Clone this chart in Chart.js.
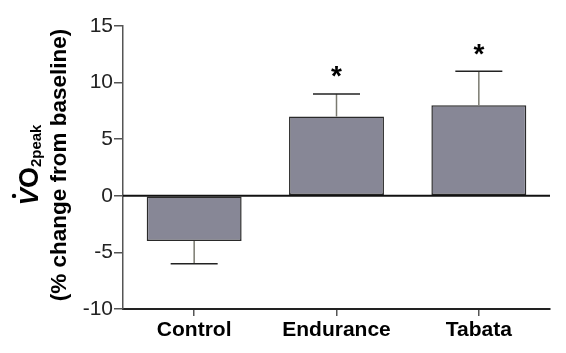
<!DOCTYPE html>
<html>
<head>
<meta charset="utf-8">
<script src="https://cdn.jsdelivr.net/npm/chart.js@4.4.1/dist/chart.umd.min.js"></script>
<style>
  html, body { margin: 0; padding: 0; background: #fff; }
  #wrap { width: 566px; height: 353px; }
</style>
</head>
<body>
<div id="wrap"><canvas id="c" width="566" height="353"></canvas></div>
<script>
const categories = ["Control", "Endurance", "Tabata"];
const meanChange = [-4, 7, 8];
const errorSD = [2, 2, 3];
const significant = [false, true, true];
const yTicks = [-10, -5, 0, 5, 10, 15];

const FONT = "'Liberation Sans', Arial, sans-serif";

const extrasPlugin = {
  id: 'extras',
  afterDatasetsDraw(chart) {
    const ctx = chart.ctx;
    const y = chart.scales.y;
    const meta = chart.getDatasetMeta(0);
    ctx.save();
    meta.data.forEach((bar, i) => {
      const v = meanChange[i];
      const e = errorSD[i];
      const x = bar.x;
      const yBar = y.getPixelForValue(v);
      const yEnd = y.getPixelForValue(v >= 0 ? v + e : v - e);
      ctx.strokeStyle = '#7a7a70';
      ctx.lineWidth = 1.5;
      ctx.beginPath();
      ctx.moveTo(x, yBar);
      ctx.lineTo(x, yEnd);
      ctx.stroke();
      ctx.strokeStyle = '#222';
      ctx.lineWidth = 1.5;
      ctx.beginPath();
      ctx.moveTo(x - 23.5, yEnd);
      ctx.lineTo(x + 23.5, yEnd);
      ctx.stroke();
      if (significant[i]) {
        const fs = 28;
        ctx.fillStyle = '#000';
        ctx.font = 'bold ' + fs + 'px ' + FONT;
        ctx.textAlign = 'center';
        ctx.textBaseline = 'alphabetic';
        ctx.fillText('*', x, yEnd - 24 + 0.55 * fs);
      }
    });
    const y0 = y.getPixelForValue(0);
    ctx.strokeStyle = '#111';
    ctx.lineWidth = 2;
    ctx.beginPath();
    ctx.moveTo(chart.chartArea.left, y0);
    ctx.lineTo(chart.chartArea.right, y0);
    ctx.stroke();
    ctx.restore();
  },
  afterDraw(chart) {
    const ctx = chart.ctx;
    ctx.save();
    ctx.fillStyle = '#000';
    ctx.translate(38, 165);
    ctx.rotate(-Math.PI / 2);
    const bigF = 'bold 27px ' + FONT;
    const vF = 'bold italic 26px ' + FONT;
    const subF = 'bold 15px ' + FONT;
    ctx.font = vF; const wV = ctx.measureText('V').width;
    ctx.font = bigF; const wO = ctx.measureText('O').width;
    ctx.font = subF; const wS = ctx.measureText('2peak').width;
    const total = wV + wO + wS;
    let xx = -total / 2;
    ctx.textBaseline = 'alphabetic';
    ctx.textAlign = 'left';
    ctx.font = vF; ctx.fillText('V', xx, 0);
    ctx.beginPath();
    ctx.arc(xx + wV * 0.55, -24, 2.2, 0, Math.PI * 2);
    ctx.fill();
    xx += wV;
    ctx.font = bigF; ctx.fillText('O', xx, 0); xx += wO;
    ctx.font = subF; ctx.fillText('2peak', xx, 2.5);
    ctx.restore();
    ctx.save();
    ctx.fillStyle = '#000';
    ctx.translate(66, 165);
    ctx.rotate(-Math.PI / 2);
    ctx.font = 'bold 22.5px ' + FONT;
    ctx.textAlign = 'center';
    ctx.textBaseline = 'alphabetic';
    ctx.fillText('(% change from baseline)', 0, 0);
    ctx.restore();
  }
};

new Chart(document.getElementById('c'), {
  type: 'bar',
  data: {
    labels: categories,
    datasets: [{
      data: meanChange,
      backgroundColor: '#878796',
      borderColor: '#2a2a2a',
      borderWidth: 1.5,
      borderSkipped: false,
      barPercentage: 0.667,
      categoryPercentage: 1.0
    }]
  },
  options: {
    responsive: false,
    animation: false,
    devicePixelRatio: 1,
    layout: { padding: { left: 0, right: 16, top: 26, bottom: 0 } },
    plugins: { legend: { display: false }, tooltip: { enabled: false } },
    scales: {
      x: {
        afterFit(s) { s.height = 44; },
        grid: { display: true, offset: false, drawOnChartArea: false, tickLength: 7, color: '#555', lineWidth: 1.5 },
        border: { display: true, color: '#222', width: 2 },
        ticks: { color: '#000', font: { family: FONT, size: 21, weight: 'bold' }, padding: 2 }
      },
      y: {
        min: -10, max: 15,
        afterFit(s) { s.width = 123; },
        afterBuildTicks(s) { s.ticks = yTicks.map(v => ({ value: v })); },
        grid: { display: true, drawOnChartArea: false, tickLength: 9, color: '#555', lineWidth: 1.5 },
        border: { display: true, color: '#555', width: 1.5 },
        ticks: { color: '#222', font: { family: FONT, size: 21 }, padding: 1 }
      }
    }
  },
  plugins: [extrasPlugin]
});
</script>
</body>
</html>
